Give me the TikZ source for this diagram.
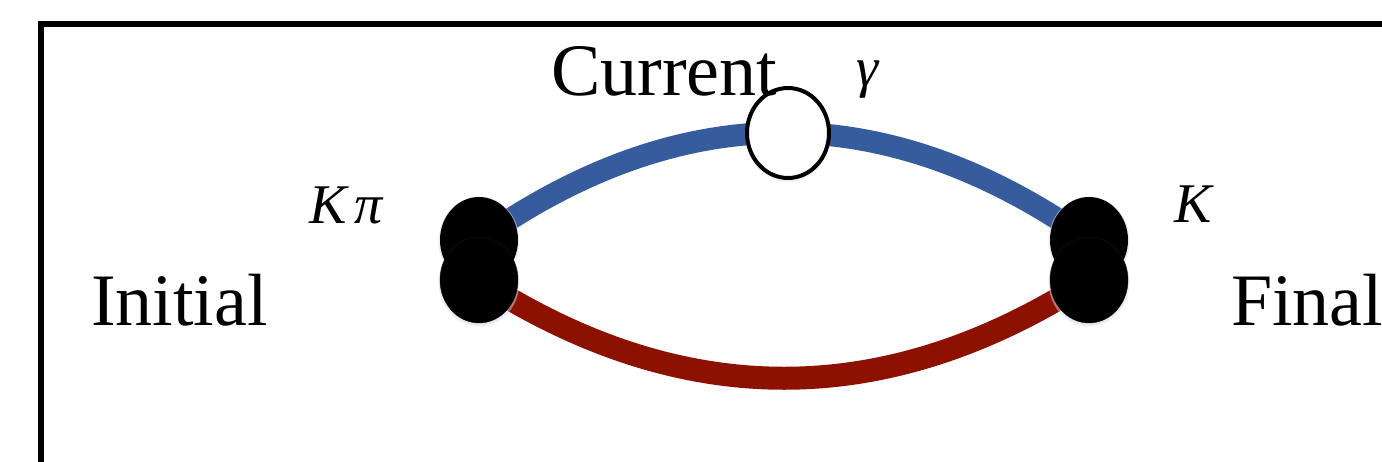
\documentclass[tikz,border=0pt]{standalone}
\usepackage{fontspec}
\setmainfont{Liberation Serif}
\usetikzlibrary{shapes.geometric,backgrounds}
\definecolor{arcblue}{RGB}{55,92,157}
\definecolor{arcred}{RGB}{140,17,0}
\definecolor{halo}{RGB}{215,220,232}
\tikzset{
  blob/.style={ellipse, fill=black, minimum width=78pt, minimum height=86pt, inner sep=0pt},
  blobedge/.style={blob, draw=black!92, line width=0.4pt},
  vertex/.style={ellipse, fill=white, draw=black, line width=4pt, minimum width=82pt, minimum height=90pt, inner sep=0pt},
  bigtext/.style={inner sep=0pt, font=\fontsize{74}{80}\selectfont},
  mathtext/.style={inner sep=0pt, font=\fontsize{56}{62}\selectfont\itshape},
  bluearc/.style={draw=arcblue, line width=22pt},
  redarc/.style={draw=arcred, line width=23pt},
  frame/.style={draw=black, line width=5.3pt}
}
\begin{document}
\begin{tikzpicture}[x=1pt, y=-1pt]
\useasboundingbox (0,0) rectangle (1382,461);
\clip (0,0) rectangle (1382,461);
\draw[frame] (41,24) rectangle (1500,600);
% halos
\foreach \cx in {479,1089}{
  \fill[halo, opacity=0.5] (\cx,241) ellipse [x radius=40.5pt, y radius=44.5pt];
  \fill[halo, opacity=0.5] (\cx,282) ellipse [x radius=40.5pt, y radius=44.5pt];
}
\fill[halo, opacity=0.4] (788,136) ellipse [x radius=42pt, y radius=46pt];
% vertices
\node[blob] (initU) at (479,240) {};
\node[blobedge] (initL) at (479,280) {};
\node[blob] (finU) at (1089,240) {};
\node[blobedge] (finL) at (1089,280) {};
% arcs behind
\begin{scope}[on background layer]
\path[bluearc] (initU.center) .. controls (682,97) and (886,97) .. (finU.center);
\path[redarc] (initL.center) .. controls (682,411) and (886,411) .. (finL.center);
\end{scope}
\node[vertex] (cur) at (788,133) {};
% labels
\node[bigtext, anchor=base west] (current) at (551,95) {Current};
\node[bigtext, anchor=base west] (initial) at (91,325) {Initial};
\node[bigtext, anchor=base west] (final) at (1231,325) {Final};
\node[mathtext, anchor=base west] (kpi) at (309,223) {K\kern8pt π};
\node[mathtext, anchor=base west] (kfin) at (1174,222) {K};
\node[mathtext, anchor=base west] (gam) at (856,86) {γ};
\end{tikzpicture}
\end{document}
